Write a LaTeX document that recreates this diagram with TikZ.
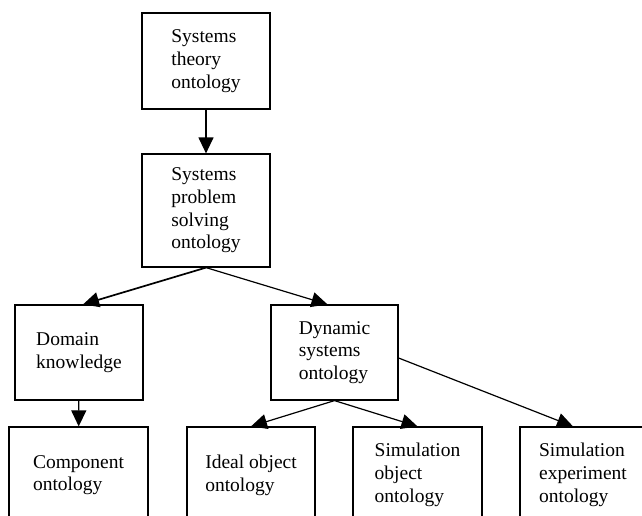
\documentclass[tikz,border=0pt]{standalone}
\usepackage{fontspec}
\setmainfont{Liberation Serif}
\usetikzlibrary{positioning, arrows.meta}
\tikzset{
  onto/.style={
    draw,
    rectangle,
    line width=1.2pt,
    minimum width=128pt,
    minimum height=95pt,
    inner sep=0pt,
    align=left,
    font=\fontsize{19.5}{22.7}\selectfont
  },
  link/.style={
    line width=1.2pt,
    -{Triangle[length=16pt,width=15pt]}
  }
}
\begin{document}
\begin{tikzpicture}[x=1pt, y=-1pt]
    \useasboundingbox (0,0) rectangle (642,516);
    \clip (0,0) rectangle (642,516);

    \node[onto, minimum height=96pt] (theory) at (206,61) {Systems\\theory\\ontology};
    \node[onto, minimum height=113pt] (problem) at (206,210.5) {Systems\\problem\\solving\\ontology};
    \node[onto] (domain) at (79,352.5) {Domain\\knowledge};
    \node[onto, minimum width=127pt] (dynamic) at (334.5,352.5) {Dynamic\\systems\\ontology};
    \node[onto, minimum width=139pt, minimum height=96pt] (component) at (78.5,475) {Component\\ontology};
    \node[onto, minimum height=96pt] (ideal) at (251,475) {Ideal object\\ontology};
    \node[onto, minimum width=129pt, minimum height=96pt] (simobject) at (417.5,475) {Simulation\\object\\ontology};
    \node[onto, minimum width=126pt, minimum height=96pt] (simexp) at (583,475) {Simulation\\experiment\\ontology};

    \draw[link] (theory) -- (problem);
    \draw[link, line width=1.7pt] (problem.south) -- ([xshift=4pt]domain.north);
    \draw[link] (problem.south) -- ([xshift=-7pt]dynamic.north);
    \draw[link] (domain) -- (component);
    \draw[link] (dynamic.south) -- (ideal.north);
    \draw[link] (dynamic.south) -- (simobject.north);
    \draw[link] ([yshift=-5.5pt]dynamic.east) -- ([xshift=-10pt]simexp.north);
\end{tikzpicture}
\end{document}
